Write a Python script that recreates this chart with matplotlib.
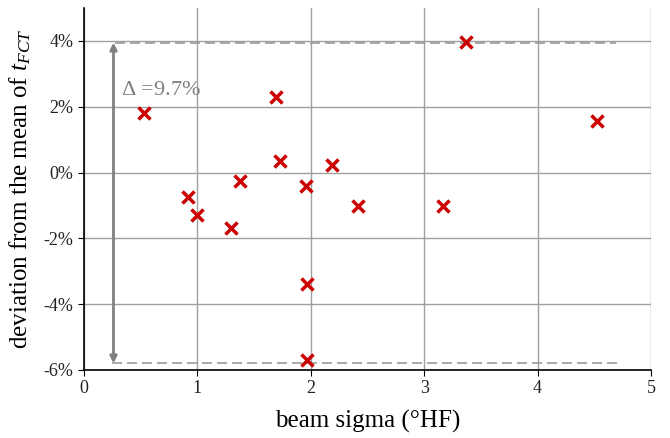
import numpy as np
import matplotlib
matplotlib.use("Agg")
import matplotlib.pyplot as plt
from matplotlib.ticker import FuncFormatter

plt.rcParams['font.family'] = ['Liberation Serif', 'DejaVu Serif']
plt.rcParams['mathtext.fontset'] = 'custom'
plt.rcParams['mathtext.rm'] = 'Liberation Serif'
plt.rcParams['mathtext.it'] = 'Liberation Serif:italic'

# data
sigma = [0.53, 0.92, 1.00, 1.30, 1.38, 1.69, 1.73, 1.96, 2.19, 1.97, 1.97, 2.42, 3.17, 3.37, 4.52]
dev = [1.8, -0.75, -1.3, -1.7, -0.27, 2.3, 0.35, -0.4, 0.22, -3.4, -5.7, -1.02, -1.02, 3.97, 1.58]

dmax = 3.95
dmin = -5.8
arrow_x = 0.26

fig = plt.figure(figsize=(6.7, 4.38), dpi=100)
ax = fig.add_axes([0.1254, 0.1553, 0.8462, 0.8264])

ax.set_xlim(0, 5)
ax.set_ylim(-6, 5)
ax.set_xticks([0, 1, 2, 3, 4, 5])
ax.set_yticks([-6, -4, -2, 0, 2, 4])
ax.yaxis.set_major_formatter(FuncFormatter(lambda v, p: "%d%%" % v))
ax.grid(True, color='#a0a0a0', lw=1)
ax.set_axisbelow(True)
for s in ['top', 'right']:
    ax.spines[s].set_visible(False)
ax.spines['left'].set_lw(1.2)
ax.spines['bottom'].set_lw(1.2)
ax.tick_params(labelsize=13, length=4, color='black', labelcolor='#222222')

# dashed lines for max/min
ax.plot([0.27, 4.69], [dmax, dmax], ls='--', color='#999999', lw=1.2, dashes=(6, 3))
ax.plot([0.25, 4.73], [dmin, dmin], ls='--', color='#999999', lw=1.2, dashes=(6, 3))
ax.annotate('', xy=(arrow_x, dmax), xytext=(arrow_x, dmin),
            arrowprops=dict(arrowstyle='<|-|>', color='#808080', lw=2,
                            mutation_scale=10, shrinkA=0, shrinkB=0))
ax.text(0.33, 2.5, r'$\Delta$ =9.7%', color='#808080', fontsize=16, va='center')

ax.plot(sigma, dev, ls='none', marker='x', color='#cc0000', ms=9, mew=2.5)

ax.set_xlabel('beam sigma (°HF)', fontsize=18, labelpad=9)
ax.set_ylabel(r'deviation from the mean of $t_{FCT}$', fontsize=18, labelpad=8)

fig.savefig('out.png', dpi=100)
